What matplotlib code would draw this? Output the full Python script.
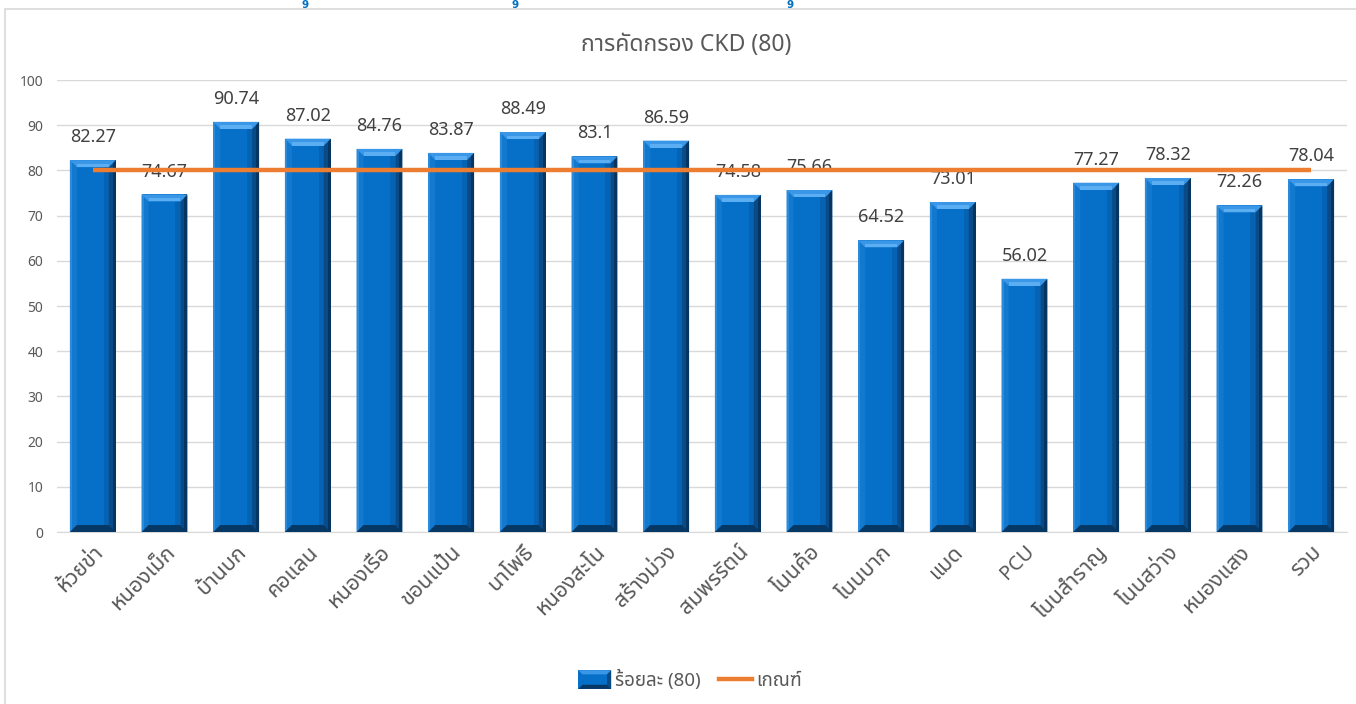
import matplotlib
matplotlib.use("Agg")
import matplotlib.pyplot as plt
from matplotlib import font_manager
from matplotlib.patches import Polygon, Rectangle, Patch
from matplotlib.lines import Line2D
from matplotlib.legend_handler import HandlerPatch

# ---------------- data ----------------
categories = ["ห้วยข่า", "หนองเม็ก", "บ้านบก", "คอแลน", "หนองเรือ", "ขอนแป้น",
              "นาโพธิ์", "หนองสะโน", "สร้างม่วง", "สมพรรัตน์", "โนนค้อ", "โนนบาก",
              "แมด", "PCU", "โนนสำราญ", "โนนสว่าง", "หนองแสง", "รวม"]
percent_values = [82.27, 74.67, 90.74, 87.02, 84.76, 83.87, 88.49, 83.1, 86.59,
                  74.58, 75.66, 64.52, 73.01, 56.02, 77.27, 78.32, 72.26, 78.04]
value_labels = ["82.27", "74.67", "90.74", "87.02", "84.76", "83.87", "88.49", "83.1",
                "86.59", "74.58", "75.66", "64.52", "73.01", "56.02", "77.27", "78.32",
                "72.26", "78.04"]
criterion = [80] * len(categories)
title = "การคัดกรอง CKD (80)"
series_bar = "ร้อยละ (80)"
series_line = "เกณฑ์"
y_ticks = [0, 10, 20, 30, 40, 50, 60, 70, 80, 90, 100]

# ---------------- fonts ----------------
names = {f.name for f in font_manager.fontManager.ttflist}
pref = ["Noto Sans Thai", "Noto Sans Thai UI", "IBM Plex Sans Thai", "Sarabun",
        "Prompt", "Kanit", "Anuphan", "Bai Jamjuree"]
thai = next((p for p in pref if p in names), "DejaVu Sans")
plt.rcParams['font.family'] = [thai, 'DejaVu Sans']

W, H = 1356, 704
fig = plt.figure(figsize=(W / 100, H / 100), dpi=100)
fig.patch.set_facecolor("white")

# outer chart frame
fig.add_artist(Rectangle((5 / W, -0.01), 1.02, 1 - 9 / H + 0.01, transform=fig.transFigure,
                         fill=False, edgecolor="#D9D9D9", linewidth=1.2))

ax = fig.add_axes([57 / W, 1 - 532 / H, (1347 - 57) / W, (532 - 80) / H])
n = len(categories)
x = list(range(n))
ax.set_xlim(-0.5, n - 0.5)
ax.set_ylim(0, 100)
ax.set_yticks(y_ticks)
ax.yaxis.grid(True, color="#D9D9D9", linewidth=1.0)
ax.set_axisbelow(True)
for s in ["top", "right", "left"]:
    ax.spines[s].set_visible(False)
ax.spines["bottom"].set_color("#D9D9D9")
ax.tick_params(axis="y", length=0, labelsize=10, labelcolor="#595959", pad=10)
ax.tick_params(axis="x", length=0, labelsize=14.5, labelcolor="#595959", pad=7)
ax.set_xticks(x)
ax.set_xticklabels(categories, rotation=45, ha="right", rotation_mode="anchor")
for lbl in ax.get_xticklabels():
    if not lbl.get_text().isascii():
        lbl.set_fontsize(15.5)

bar_w = 0.64
main_col = "#0670C8"
bars = ax.bar(x, percent_values, width=bar_w, color=main_col, zorder=2)

# bevel effect computed in data units from pixel sizes
px_x = n / (1347 - 57)
px_y = 100 / (532 - 80)
bx, by = 7 * px_x, 7 * px_y
for xi, v in zip(x, percent_values):
    l, r = xi - bar_w / 2, xi + bar_w / 2
    t, b = v, 0
    # left
    ax.add_patch(Polygon([(l, b), (l + bx, b + by), (l + bx, t - by), (l, t)],
                         closed=True, facecolor="#1279CF", edgecolor="none", zorder=3))
    ax.add_patch(Rectangle((l, b), 2 * px_x, t - b, facecolor="#2B8AD9",
                           edgecolor="none", zorder=3))
    # right gradient
    ax.add_patch(Rectangle((r - bx - 5 * px_x, b + by), 5 * px_x, t - b - 2 * by,
                           facecolor="#0662B2", edgecolor="none", zorder=3))
    ax.add_patch(Polygon([(r, b), (r - bx, b + by), (r - bx, t - by), (r, t)],
                         closed=True, facecolor="#0A4B87", edgecolor="none", zorder=3))
    ax.add_patch(Rectangle((r - 3 * px_x, b), 3 * px_x, t - b, facecolor="#053560",
                           edgecolor="none", zorder=3))
    # top
    ax.add_patch(Polygon([(l, t), (r, t), (r - bx, t - by), (l + bx, t - by)],
                         closed=True, facecolor="#3A97E8", edgecolor="none", zorder=3))
    ax.add_patch(Polygon([(l + bx, t - by), (r - bx, t - by), (r - bx, t - by * 0.5),
                          (l + bx, t - by * 0.5)],
                         closed=True, facecolor="#5CAEF2", edgecolor="none", zorder=3))
    # bottom
    ax.add_patch(Polygon([(l, b), (r, b), (r - bx, b + by), (l + bx, b + by)],
                         closed=True, facecolor="#063866", edgecolor="none", zorder=3))

for xi, v, lab in zip(x, percent_values, value_labels):
    ax.annotate(lab, (xi, v), xytext=(0, 10), textcoords="offset points",
                ha="center", va="bottom", fontsize=13, color="#404040", zorder=4)

ax.plot(x, criterion, color="#ED7D31", linewidth=3.2, solid_capstyle="butt", zorder=5)

fig.text(686 / W, 1 - 45 / H, title, ha="center", va="center", fontsize=16.5, color="#595959")

# small blue glyphs at the very top (cut-off text above the chart in the source)
for gx in [305, 515, 790]:
    fig.text(gx / W, 1 - 0.2 / H, "9", ha="center", va="top", fontsize=7.5,
             color="#0070C0", fontweight="bold", family="DejaVu Sans")


class BevelHandler(HandlerPatch):
    def create_artists(self, legend, orig_handle, xdescent, ydescent, width, height,
                       fontsize, trans):
        w, h = width, height * 1.25
        x0, y0 = -xdescent, -ydescent - (h - height) / 2
        d = 3
        arts = [Rectangle((x0, y0), w, h, facecolor=main_col, edgecolor="none"),
                Polygon([(x0, y0 + h), (x0 + w, y0 + h), (x0 + w - d, y0 + h - d), (x0 + d, y0 + h - d)],
                        closed=True, facecolor="#3A97E8", edgecolor="none"),
                Polygon([(x0 + w, y0), (x0 + w, y0 + h), (x0 + w - d, y0 + h - d), (x0 + w - d, y0 + d)],
                        closed=True, facecolor="#0A4B87", edgecolor="none"),
                Polygon([(x0, y0), (x0 + w, y0), (x0 + w - d, y0 + d), (x0 + d, y0 + d)],
                        closed=True, facecolor="#063866", edgecolor="none")]
        for a in arts:
            a.set_transform(trans)
        return arts


h_bar = Patch(facecolor=main_col, label=series_bar)
h_line = Line2D([], [], color="#ED7D31", linewidth=3.2, label=series_line)
leg = fig.legend(handles=[h_bar, h_line], loc="center", bbox_to_anchor=(690 / W, 1 - 680 / H),
                 ncol=2, frameon=False, fontsize=13.5, handlelength=1.75, handleheight=0.85,
                 handletextpad=0.2, columnspacing=1.0,
                 handler_map={Patch: BevelHandler()})
for t in leg.get_texts():
    t.set_color("#595959")

fig.savefig("out.png", dpi=100)
